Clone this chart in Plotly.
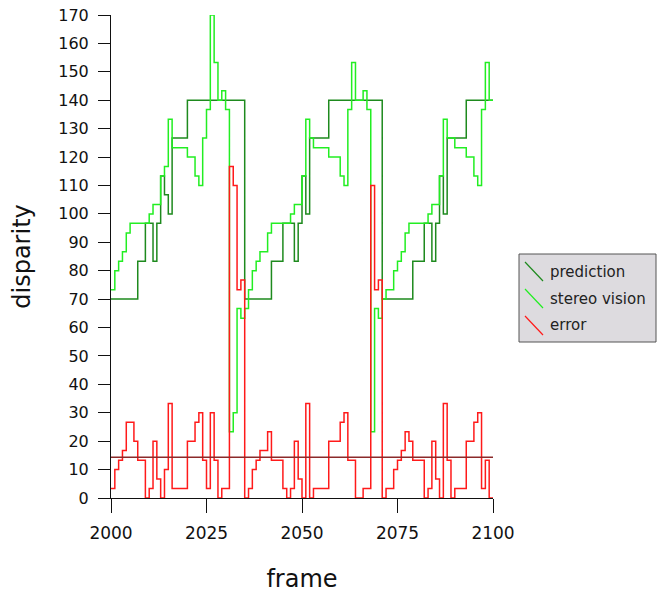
import plotly.graph_objects as go

frames = list(range(2000, 2101))

prediction = (
    [70] * 7 + [83.3] * 2 + [96.7] * 2 + [83.3] + [96.7] + [113.3] + [106.7] + [100]
    + [126.7] * 4 + [140] * 15 + [70] * 7 + [83.3] * 3 + [96.7] * 3 + [83.3] + [96.7]
    + [113.3] + [100] + [126.7] * 5 + [140] * 14 + [70] * 8 + [83.3] * 3 + [96.7] * 2
    + [83.3] + [96.7] + [113.3] + [100] + [126.7] * 5 + [140] * 8
)

stereo_vision = [
    73.3, 80, 83.3, 86.7, 93.3, 96.7, 96.7, 96.7, 96.7, 96.7,          # 2000-2009
    100, 103.3, 103.3, 113.3, 116.7, 133.3, 123.3, 123.3, 123.3, 123.3,  # 2010-2019
    120, 120, 113.3, 110, 126.7, 136.7, 170, 153.3, 140, 143.3,          # 2020-2029
    136.7, 23.3, 30, 66.7, 63.3, 66.7, 73.3, 80, 83.3, 86.7,             # 2030-2039
    86.7, 93.3, 96.7, 96.7, 96.7, 96.7, 96.7, 100, 103.3, 103.3,         # 2040-2049
    113.3, 133.3, 126.7, 123.3, 123.3, 123.3, 123.3, 120, 120, 120,      # 2050-2059
    113.3, 110, 136.7, 153.3, 140, 140, 143.3, 136.7, 23.3, 66.7,        # 2060-2069
    63.3, 70, 73.3, 73.3, 80, 83.3, 86.7, 93.3, 96.7, 96.7,              # 2070-2079
    96.7, 96.7, 96.7, 100, 103.3, 103.3, 113.3, 133.3, 126.7, 126.7,     # 2080-2089
    123.3, 123.3, 123.3, 120, 120, 113.3, 110, 136.7, 153.3, 140,        # 2090-2099
    140,                                                                 # 2100
]

error = [
    3.3, 10, 13.3, 16.7, 26.7, 26.7, 20, 13.3, 13.3, 0,                  # 2000-2009
    3.3, 20, 6.7, 0, 10, 33.3, 3.3, 3.3, 3.3, 3.3,                       # 2010-2019
    20, 20, 26.7, 30, 13.3, 3.3, 30, 13.3, 0, 3.3,                       # 2020-2029
    3.3, 116.7, 110, 73.3, 76.7, 0, 3.3, 10, 13.3, 16.7,                 # 2030-2039
    16.7, 23.3, 13.3, 13.3, 13.3, 3.3, 0, 3.3, 20, 6.7,                  # 2040-2049
    0, 33.3, 0, 3.3, 3.3, 3.3, 3.3, 20, 20, 20,                          # 2050-2059
    26.7, 30, 13.3, 13.3, 0, 0, 3.3, 3.3, 110, 73.3,                     # 2060-2069
    76.7, 0, 3.3, 3.3, 10, 13.3, 16.7, 23.3, 20, 13.3,                   # 2070-2079
    13.3, 13.3, 0, 3.3, 20, 6.7, 0, 33.3, 13.3, 0,                       # 2080-2089
    3.3, 3.3, 3.3, 20, 20, 26.7, 30, 3.3, 13.3, 0,                       # 2090-2099
    0,                                                                   # 2100
]

mean_error = [14.3] * len(frames)

series_names = ["prediction", "stereo vision", "error"]
series_colors = ["#1e8a1e", "#22ee22", "#ff1a1a"]

x_ticks = [2000, 2025, 2050, 2075, 2100]
y_ticks = list(range(0, 171, 10))

FONT = "DejaVu Sans"

W, H = 672, 593
PX0, PX1 = 111, 493      # plot area in page pixels (x)
PY0, PY1 = 15, 498       # plot area in page pixels (y)


def px(x):
    return (x - PX0) / (PX1 - PX0)


def py(y):
    return (PY1 - y) / (PY1 - PY0)


fig = go.Figure()
for name, vals, col in zip(series_names, [prediction, stereo_vision, error], series_colors):
    fig.add_trace(go.Scatter(x=frames, y=vals, name=name, mode="lines", showlegend=False,
                             line=dict(color=col, width=1.5, shape="hv")))
fig.add_trace(go.Scatter(x=frames, y=mean_error, name="mean error", mode="lines",
                         showlegend=False, line=dict(color="#8b2a2a", width=1.5)))

# legend box drawn like the reference (diagonal line glyphs)
shapes = [dict(type="rect", xref="paper", yref="paper",
               x0=px(519), x1=px(656), y0=py(342), y1=py(254),
               fillcolor="#dddbdf", line=dict(color="#555555", width=1), layer="above")]
annotations = []
for i, (name, col) in enumerate(zip(series_names, series_colors)):
    gy = 262 + 27 * i
    shapes.append(dict(type="line", xref="paper", yref="paper",
                       x0=px(525), x1=px(543), y0=py(gy), y1=py(gy + 19),
                       line=dict(color=col, width=1.2), layer="above"))
    annotations.append(dict(text=name, xref="paper", yref="paper", x=px(548), y=py(271.5 + 27 * i),
                            xanchor="left", yanchor="middle", showarrow=False,
                            font=dict(family=FONT, size=15, color="#222222")))

fig.update_layout(
    width=W, height=H,
    margin=dict(l=PX0, r=W - PX1, t=PY0, b=H - PY1, autoexpand=False),
    paper_bgcolor="white", plot_bgcolor="white",
    font=dict(family=FONT, color="#111111"),
    showlegend=False,
    shapes=shapes, annotations=annotations,
    xaxis=dict(
        range=[2000, 2100], tickvals=x_ticks, ticks="outside", ticklen=14,
        tickcolor="#111111", showline=True, linecolor="#111111", linewidth=1,
        showgrid=False, zeroline=False, tickfont=dict(size=17),
        ticklabelstandoff=6, automargin=False, ticklabeloverflow="allow",
        title=dict(text="frame", font=dict(size=24), standoff=27),
    ),
    yaxis=dict(
        range=[0, 170], tickvals=y_ticks, ticks="outside", ticklen=12,
        tickcolor="#111111", showline=True, linecolor="#111111", linewidth=1,
        showgrid=False, zeroline=False, tickfont=dict(size=16),
        ticklabelstandoff=6, automargin=False, ticklabeloverflow="allow",
        title=dict(text="disparity", font=dict(size=24), standoff=20),
    ),
)

fig.write_html("out.html",
               config={"displayModeBar": False},
               post_script="document.body.style.margin='0';document.body.style.padding='0';")
